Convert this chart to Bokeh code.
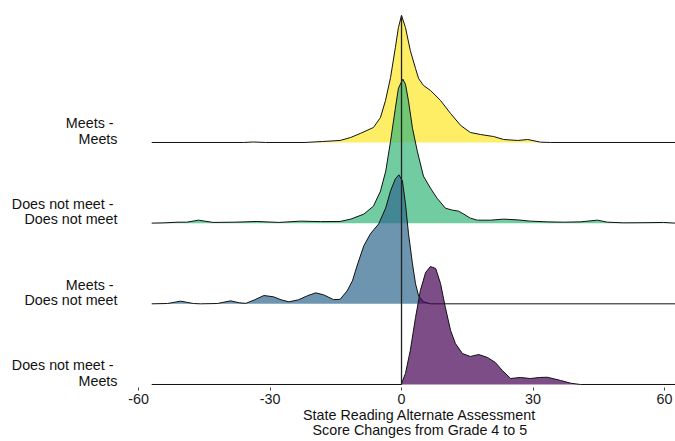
from bokeh.plotting import figure
from bokeh.models import Range1d, FixedTicker
from bokeh.embed import file_html
from bokeh.resources import INLINE

# Groups (bottom ridge first) and their viridis colours
groups = ["Does not meet -\u00a0\nMeets",
          "Meets -\u00a0\nDoes not meet",
          "Does not meet -\u00a0\nDoes not meet",
          "Meets -\u00a0\nMeets"]
colors = ["#440154", "#31688E", "#35B779", "#FDE725"]
x_ticks = [-60, -30, 0, 30, 60]
x_tick_labels = ["-60", "-30", "0", "30", "60"]
x_title = ["State Reading Alternate Assessment", "Score Changes from Grade 4 to 5"]

# Score change (x) and scaled density height (in ridge rows)
dnm_m_x = [-57, -0.01, 0, 0.9, 2, 3.2, 4.3, 5.5, 6.6, 7.8, 8.9, 10, 11.2, 12.3, 13.9,
           15.7, 17.6, 19.6, 21.4, 23, 24.9, 27.1, 29.4, 31.5, 33.3, 36.3, 38.6, 40.8, 63]
dnm_m_h = [0, 0, 0.012, 0.136, 0.421, 0.831, 1.165, 1.388, 1.463, 1.438, 1.252, 0.955, 0.669,
           0.508, 0.384, 0.347, 0.372, 0.335, 0.273, 0.174, 0.074, 0.087, 0.074, 0.087, 0.09,
           0.05, 0.016, 0, 0]

m_dnm_x = [-57, -53.4, -50.4, -47.5, -45.9, -42, -39, -37, -35.5, -33.5, -31.4, -29.2, -27.5,
           -25.7, -23.5, -21.5, -19.6, -17.8, -15.5, -14, -12.4, -11.2, -10, -8.6, -7.1, -5.2,
           -3.6, -2.5, -1.4, -0.6, 0.2, 0.9, 1.6, 2.5, 3.2, 3.9, 5, 6.6, 63]
m_dnm_h = [0, 0.004, 0.033, 0.004, 0, 0.004, 0.037, 0.012, 0.006, 0.05, 0.103, 0.087, 0.05,
           0.025, 0.05, 0.099, 0.136, 0.112, 0.052, 0.056, 0.161, 0.285, 0.496, 0.719, 0.868,
           0.992, 1.19, 1.401, 1.55, 1.599, 1.525, 1.24, 0.868, 0.496, 0.248, 0.099, 0.025, 0, 0]

dnm_dnm_x = [-57, -54, -51, -49, -46.3, -43, -38, -33, -28, -23, -18.5, -14, -11.6, -8.6, -6.4,
             -4.8, -3.6, -2.5, -1.4, -0.7, 0.3, 0.9, 1.6, 2.5, 3.6, 5, 6.6, 8.1, 10, 11.6, 13,
             14.2, 15.7, 17.3, 20.3, 23.3, 26.4, 29.4, 33.3, 37, 40.8, 44.7, 47, 50.7, 56, 59.8,
             62.5, 63]
dnm_dnm_h = [0, 0.004, 0.012, 0.012, 0.037, 0.009, 0.012, 0.021, 0.009, 0.025, 0.019, 0.021,
             0.05, 0.112, 0.211, 0.397, 0.645, 1.016, 1.426, 1.673, 1.785, 1.723, 1.512, 1.178,
             0.893, 0.583, 0.434, 0.31, 0.186, 0.161, 0.149, 0.112, 0.062, 0.037, 0.037, 0.05,
             0.041, 0.025, 0.016, 0.012, 0.016, 0.037, 0.012, 0.004, 0.006, 0.009, 0, 0]

m_m_x = [-57, -36, -33.8, -31, -22, -18, -14, -11.6, -9.4, -6.4, -4.8, -3.65, -2.5, -1.4, -0.7,
         0, 0.9, 2, 3.2, 3.9, 5, 6.6, 8.9, 11.2, 13.5, 15.7, 18, 21, 23.3, 26.5, 28.8, 31.7,
         34, 63]
m_m_h = [0, 0, 0.006, 0, 0, 0.012, 0.025, 0.062, 0.112, 0.186, 0.31, 0.521, 0.806, 1.178, 1.426,
         1.574, 1.426, 1.14, 0.917, 0.793, 0.707, 0.645, 0.521, 0.359, 0.211, 0.124, 0.099,
         0.074, 0.037, 0.025, 0.037, 0.004, 0, 0]

series = [(dnm_m_x, dnm_m_h), (m_dnm_x, m_dnm_h), (dnm_dnm_x, dnm_dnm_h), (m_m_x, m_m_h)]

FONT = "Liberation Sans"
label_lift = 0.1426  # group label sits slightly above its ridge baseline
title_pad = "\u00a0" * 9  # nudges the centred axis title to the right

p = figure(width=675, height=441, output_backend="svg", toolbar_location=None,
           x_range=Range1d(-62.29, 62.51), y_range=Range1d(-0.0372, 4.636),
           min_border_left=128, min_border_right=0, min_border_top=10, min_border_bottom=54)
p.outline_line_color = None
p.grid.visible = False
p.background_fill_color = "white"

# draw ridges from top to bottom so lower ones overlap upper ones
for i in reversed(range(len(groups))):
    xs, hs = series[i]
    top = [i + h for h in hs]
    p.varea(x=xs, y1=[i] * len(xs), y2=top, fill_color=colors[i], fill_alpha=0.7)
    p.line(x=xs, y=top, line_color="#111111", line_width=1.0)

# reference line at zero change
p.segment(x0=[0], y0=[0], x1=[0], y1=[len(groups) - 1 + max(m_m_h)],
          line_color="#222222", line_width=1.3)

# x axis
p.xaxis.ticker = FixedTicker(ticks=x_ticks)
p.xaxis.major_label_overrides = dict(zip(x_ticks, x_tick_labels))
p.xaxis.axis_line_color = None
p.xaxis.major_tick_in = 0
p.xaxis.major_tick_out = 3
p.xaxis.minor_tick_line_color = None
p.xaxis.major_tick_line_color = "#444444"
p.xaxis.major_label_standoff = 3
p.xaxis.major_label_text_font = FONT
p.xaxis.major_label_text_font_size = "14.3px"
p.xaxis.major_label_text_color = "#1a1a1a"
p.xaxis.axis_label = "\n".join(title_pad + t for t in x_title)
p.xaxis.axis_label_standoff = 0
p.xaxis.axis_label_text_font = FONT
p.xaxis.axis_label_text_font_size = "14.3px"
p.xaxis.axis_label_text_font_style = "normal"
p.xaxis.axis_label_text_color = "#111111"
p.xaxis.axis_label_text_line_height = 0.95

# y axis (group labels)
ytick_pos = [i + label_lift for i in range(len(groups))]
p.yaxis.ticker = FixedTicker(ticks=ytick_pos)
p.yaxis.major_label_overrides = {pos: g for pos, g in zip(ytick_pos, groups)}
p.yaxis.axis_line_color = None
p.yaxis.major_tick_line_color = None
p.yaxis.minor_tick_line_color = None
p.yaxis.major_tick_in = 0
p.yaxis.major_tick_out = 0
p.yaxis.major_label_standoff = 11
p.yaxis.major_label_text_font = FONT
p.yaxis.major_label_text_font_size = "14.3px"
p.yaxis.major_label_text_color = "#111111"
p.yaxis.major_label_text_line_height = 0.945

open("out.html", "w").write(file_html(p, INLINE))
